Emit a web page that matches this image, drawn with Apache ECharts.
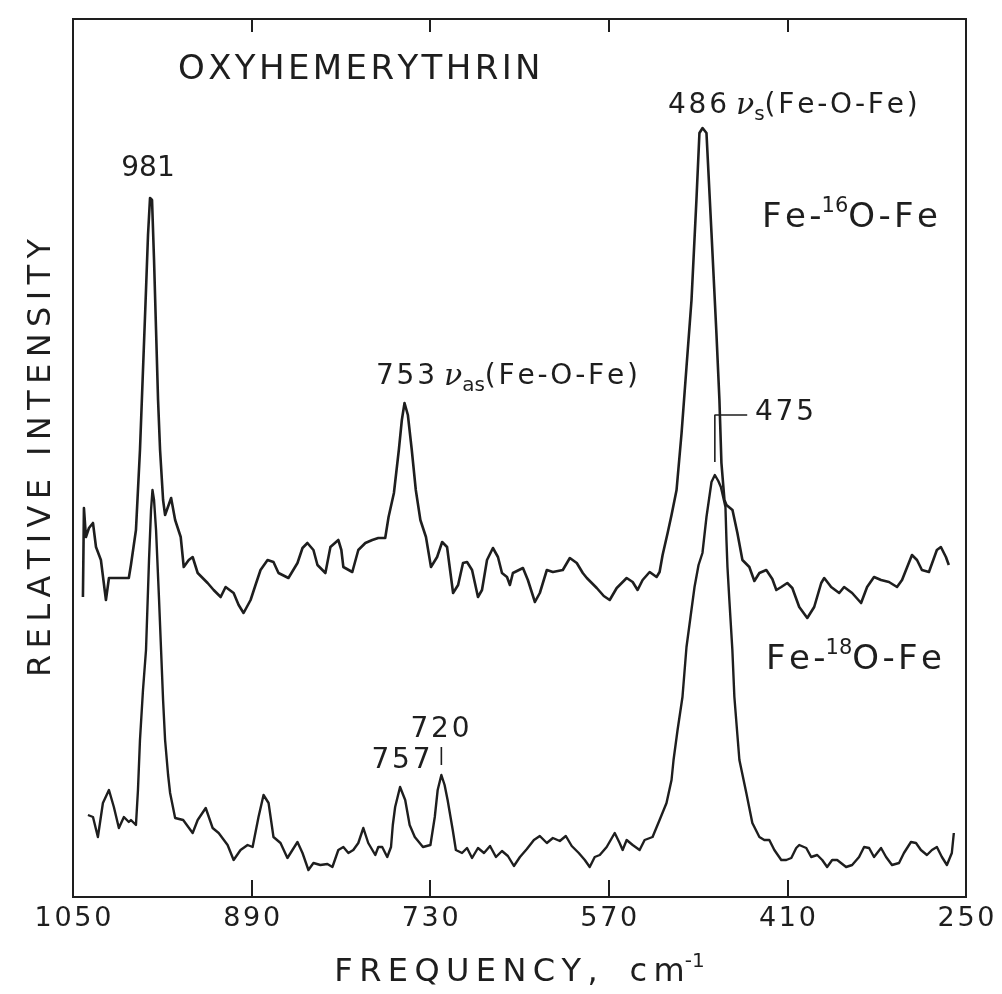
<!DOCTYPE html>
<html>
<head>
<meta charset="utf-8">
<script src="https://cdn.jsdelivr.net/npm/echarts@6/dist/echarts.min.js"></script>
<style>
  html, body { margin: 0; padding: 0; background: #ffffff; }
  #chart { width: 1002px; height: 994px; }
</style>
</head>
<body>
<div id="chart"></div>
<script>
// Resonance Raman spectra of oxyhemerythrin, 16O and 18O bridged forms.
// Frequency in cm-1, intensity in arbitrary units.
const FREQ_TICKS = [1050, 890, 730, 570, 410, 250];

const fe16O = [
  [1041.1,300],[1040.2,389],[1038.4,360],[1035.7,369],[1032.1,374],[1029.4,350],[1025.0,337],
  [1020.5,297],[1017.8,319],[1008.9,319],[1000.0,319],[998.1,332],[993.6,367],[990.0,447],[987.3,527],
  [984.6,607],[982.8,662],[981,699],[979.2,697],[977.4,637],[975.6,567],[973.8,497],[972.0,447],
  [969.3,397],[967.5,382],[962.1,399],[958.5,377],[953.5,360],[950.8,330],[946.3,337],[942.8,340],
  [938.3,324],[929.4,314],[924.0,307],[917.7,300],[913.3,310],[906.1,304],[901.6,292],[897.2,284],
  [890.9,297],[886.5,312],[882.0,327],[875.7,337],[870.4,335],[865.9,324],[857.0,319],[848.9,334],
  [844.4,349],[840.0,354],[834.6,347],[831.0,332],[823.9,324],[819.4,350],[812.3,357],[809.6,347],
  [807.8,330],[799.8,325],[794.4,347],[788.1,354],[781.9,357],[776.5,359],[770.3,359],[767.3,380],
  [762.5,404],[758.1,447],[755.4,477],[753,494],[750.0,482],[746.5,447],[742.9,407],[738.8,377],
  [733.8,360],[729.3,330],[723.8,340],[719.3,355],[714.9,350],[712.2,327],[709.5,304],[705.0,312],
  [700.6,334],[697.0,335],[692.5,327],[687.2,300],[683.6,307],[679.1,337],[673.8,349],[669.3,340],
  [665.7,324],[661.2,320],[658.6,312],[655.9,324],[646.9,329],[642.5,317],[636.2,295],[631.8,304],
  [625.5,327],[620.1,325],[611.2,327],[604.9,339],[598.7,334],[593.3,324],[589.7,319],[580.8,309],
  [574.5,301],[569.2,297],[562.9,309],[554.0,319],[548.6,315],[544.2,307],[539.7,317],[533.4,325],
  [527.2,320],[524.5,325],[521.8,342],[517.3,364],[513.8,382],[509.3,407],[504.8,464],[500.4,530],
  [495.9,597],[491.5,697],[488.8,764],[486,769],[482.5,764],[478.0,664],[473.6,564],[470.9,497],
  [469.1,434],[466.4,397],[464.6,392],[459.2,387],[454.8,364],[450.3,337],[444.1,330],[439.6,316],
  [435.1,324],[428.9,327],[423.5,318],[419.9,307],[415.5,310],[410.1,314],[405.6,309],[399.4,290],
  [392.2,279],[386.0,290],[379.7,314],[377.0,319],[370.8,310],[363.6,304],[359.2,310],[352.0,304],
  [344.0,294],[338.6,310],[332.4,320],[326.1,317],[319.0,315],[311.8,310],[307.3,317],[298.4,342],
  [293.9,337],[289.5,327],[283.2,325],[276.1,347],[272.5,350],[268.0,340],[265.4,332]
];

const fe18O = [
  [1036.6,82],[1032.1,80],[1027.7,60],[1023.2,94],[1017.8,107],[1013.4,90],[1008.9,69],[1004.4,80],
  [1000.0,75],[998.1,77],[993.6,72],[991.8,107],[990.0,157],[987.3,207],[984.6,247],[981.9,337],
  [980.1,387],[978.8,407],[977.4,397],[975.6,367],[972.9,297],[971.1,247],[969.3,197],[967.5,157],
  [964.8,122],[963.0,104],[958.5,79],[951.3,77],[942.8,64],[938.3,77],[931.1,89],[924.9,69],
  [919.5,64],[911.5,52],[906.1,37],[899.9,47],[893.6,52],[889.1,50],[883.8,80],[879.3,102],
  [874.8,94],[870.4,60],[864.1,54],[857.9,39],[853.4,47],[848.9,55],[844.4,44],[839.1,27],
  [834.6,34],[828.4,32],[822.1,33],[817.6,30],[812.3,47],[807.8,50],[803.3,44],[798.9,47],
  [794.4,54],[789.9,69],[785.5,54],[779.2,42],[776.5,50],[773.0,50],[768.5,40],[765.1,50],
  [763.5,72],[761.4,90],[757,110],[752.4,97],[748.4,72],[743.8,60],[736.5,50],[729.8,52],
  [725.9,80],[723.3,107],[720,122],[717.1,112],[714.4,97],[709.8,67],[707.0,47],[701.5,44],
  [697.0,49],[692.5,39],[687.2,49],[681.8,44],[676.4,51],[671.1,40],[665.7,46],[660.4,41],
  [655.0,31],[649.6,40],[643.4,48],[637.1,57],[631.8,61],[625.5,54],[620.1,59],[613.9,56],
  [608.5,61],[603.2,51],[596.9,44],[591.5,37],[587.1,30],[582.6,40],[578.1,42],[571.9,50],
  [564.7,64],[560.3,54],[557.6,47],[554.0,57],[548.6,52],[542.4,47],[537.9,57],[530.8,60],
  [524.5,77],[518.3,94],[513.8,117],[512.0,137],[508.4,167],[504.0,200],[500.4,250],[496.8,280],
  [493.2,310],[489.6,332],[486.1,344],[482.5,380],[478.0,415],[475,422],[471.9,416],[469.6,410],
  [465.5,390],[464.6,357],[463.7,330],[462.0,297],[459.3,247],[457.5,200],[454.8,162],[453.0,137],
  [446.8,104],[441.4,74],[435.1,60],[430.7,57],[426.2,57],[421.7,47],[415.5,37],[411.0,37],
  [406.5,39],[402.1,49],[399.4,52],[393.1,49],[388.7,40],[383.3,42],[378.8,37],[374.4,30],
  [369.9,37],[365.4,37],[357.4,30],[352.0,32],[345.8,40],[341.3,50],[336.8,49],[332.4,40],
  [326.1,49],[321.6,40],[316.3,32],[310.0,34],[305.6,44],[299.3,55],[294.8,54],[290.4,47],
  [285.0,42],[280.5,47],[276.1,50],[271.6,40],[267.1,32],[262.7,44],[260.9,64]
];

// leader lines pointing at the 475 and 720 bands
const lead475 = [[475,435],[475,482],[446,482]];
const lead720 = [[720,132],[720,150]];

const INK = '#1e1e1e';
const FONT = '"DejaVu Sans", "Noto Sans", sans-serif';

// lettering-style tracking: hair or thin spaces between glyphs
function sp(s) { return String(s).split('').join('\u200A'); }
function wide(s) { return String(s).split('').join('\u2009'); }

const chart = echarts.init(document.getElementById('chart'), null, { renderer: 'canvas' });

const rich = {
  n:   { fontFamily: FONT, fontSize: 28, color: INK, lineHeight: 38 },
  nu:  { fontFamily: '"DejaVu Serif", serif', fontStyle: 'italic', fontSize: 30, color: INK, lineHeight: 38 },
  sub: { fontFamily: FONT, fontSize: 20, color: INK, lineHeight: 20, verticalAlign: 'bottom' },
  big: { fontFamily: FONT, fontSize: 34, color: INK, lineHeight: 44 },
  sup: { fontFamily: FONT, fontSize: 21, color: INK, lineHeight: 21, verticalAlign: 'top' }
};

function label(x, y, text, align) {
  return {
    type: 'text', x: x, y: y, silent: true,
    style: { text: text, fill: INK, font: '28px ' + FONT, align: align || 'left', verticalAlign: 'middle', rich: rich }
  };
}

const option = {
  backgroundColor: '#ffffff',
  animation: false,
  grid: { left: 73, right: 36, top: 19, bottom: 97, show: true, borderColor: INK, borderWidth: 2, backgroundColor: 'transparent' },
  xAxis: [
    {
      type: 'value', min: 250, max: 1050, inverse: true, position: 'bottom',
      axisLine: { show: false }, splitLine: { show: false },
      axisTick: { show: true, inside: true, length: 17, lineStyle: { color: INK, width: 2 }, customValues: FREQ_TICKS },
      axisLabel: { customValues: FREQ_TICKS, margin: 8, fontSize: 27, color: INK, fontFamily: FONT,
                   formatter: function (v) { return sp(v); } },
      name: '{a|' + wide('FREQUENCY,') + '}{a|\u2003}{a|' + wide('cm') + '}{s|-1}',
      nameLocation: 'middle', nameGap: 55,
      nameTextStyle: {
        rich: {
          a: { fontFamily: FONT, fontSize: 32, color: INK, lineHeight: 42 },
          s: { fontFamily: FONT, fontSize: 20, color: INK, lineHeight: 20, verticalAlign: 'top' }
        }
      }
    },
    {
      type: 'value', min: 250, max: 1050, inverse: true, position: 'top',
      axisLine: { show: false }, splitLine: { show: false }, axisLabel: { show: false },
      axisTick: { show: true, inside: true, length: 13, lineStyle: { color: INK, width: 2 }, customValues: FREQ_TICKS }
    }
  ],
  yAxis: {
    type: 'value', min: 0, max: 878,
    axisLine: { show: false }, axisTick: { show: false }, axisLabel: { show: false }, splitLine: { show: false },
    name: wide('RELATIVE INTENSITY'), nameLocation: 'middle', nameRotate: 90, nameGap: 15,
    nameTextStyle: { fontFamily: FONT, fontSize: 32, color: INK }
  },
  series: [
    { name: 'Fe-16O-Fe', type: 'line', data: fe16O, showSymbol: false, silent: true,
      lineStyle: { color: INK, width: 2.6, join: 'round' } },
    { name: 'Fe-18O-Fe', type: 'line', data: fe18O, showSymbol: false, silent: true,
      lineStyle: { color: INK, width: 2.4, join: 'round' } },
    { name: 'lead475', type: 'line', data: lead475, showSymbol: false, silent: true,
      lineStyle: { color: INK, width: 1.6 } },
    { name: 'lead720', type: 'line', data: lead720, showSymbol: false, silent: true,
      lineStyle: { color: INK, width: 1.6 } }
  ],
  graphic: [
    { type: 'text', x: 178, y: 70, silent: true,
      style: { text: sp('OXYHEMERYTHRIN'), fill: INK, font: '34px ' + FONT, align: 'left', verticalAlign: 'middle' } },
    label(148, 169, '{n|981}', 'center'),
    label(668, 106, '{n|' + sp('486') + ' }{nu|ν}{sub|s}{n|' + sp('(Fe-O-Fe)') + '}'),
    label(762, 218, '{big|' + sp('Fe-') + '}{sup|16}{big|' + sp('O-Fe') + '}'),
    label(376, 377, '{n|' + sp('753') + ' }{nu|ν}{sub|as}{n|' + sp('(Fe-O-Fe)') + '}'),
    label(755, 413, '{n|' + sp('475') + '}'),
    label(766, 660, '{big|' + sp('Fe-') + '}{sup|18}{big|' + sp('O-Fe') + '}'),
    label(440, 730, '{n|' + sp('720') + '}', 'center'),
    label(401, 761, '{n|' + sp('757') + '}', 'center')
  ]
};

chart.setOption(option);
</script>
</body>
</html>
